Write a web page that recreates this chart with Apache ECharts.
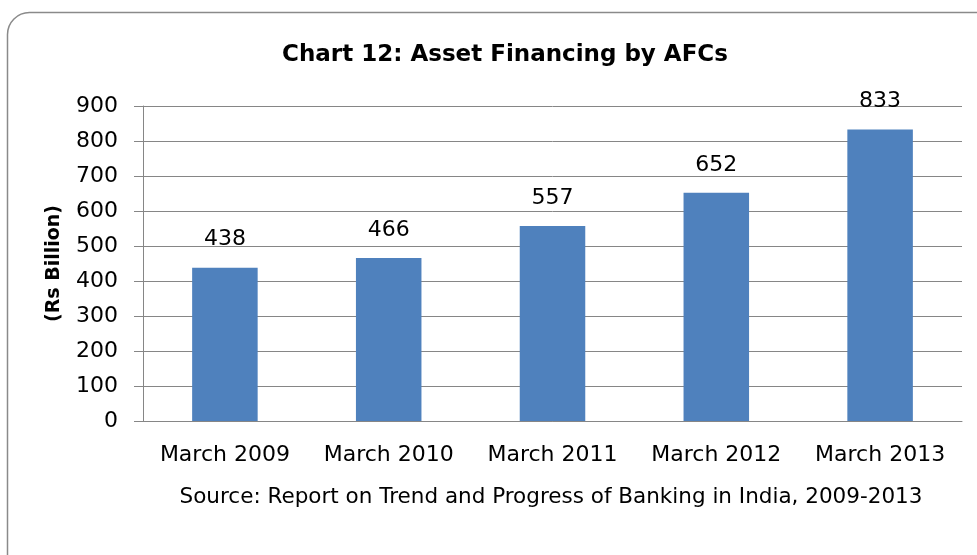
<!DOCTYPE html>
<html><head><meta charset="utf-8">
<script src="https://cdn.jsdelivr.net/npm/echarts@6/dist/echarts.min.js"></script>
<style>html,body{margin:0;padding:0;background:#fff}#c{width:977px;height:555px}</style>
</head><body><div id="c"></div>
<script>
const categories = ["March 2009","March 2010","March 2011","March 2012","March 2013"];
const values = [438, 466, 557, 652, 833];
const titleText = "Chart 12: Asset Financing by AFCs";
const yAxisName = "(Rs Billion)";
const sourceText = "Source: Report on Trend and Progress of Banking in India, 2009-2013";

const font = "'DejaVu Sans', sans-serif";
const chart = echarts.init(document.getElementById('c'));
chart.setOption({
  animation: false,
  backgroundColor: '#fff',
  title: {
    text: titleText, left: 500, top: 39, textAlign: 'center',
    textStyle: {fontFamily: font, fontSize: 23, fontWeight: 'bold', color: '#000'}
  },
  graphic: [
    {type: 'rect', shape: {x: 7.5, y: 12.5, width: 1000, height: 600, r: 22},
     style: {fill: 'none', stroke: '#8a8a8a', lineWidth: 1.5}, z: -1},
    {type: 'text', x: 551, y: 497,
     style: {text: sourceText, font: '21.5px ' + font, fill: '#000', textAlign: 'center', textVerticalAlign: 'middle'}}
  ],
  grid: {left: 143, right: 15, top: 106, bottom: 134, containLabel: false},
  xAxis: {
    type: 'category', data: categories,
    axisLine: {lineStyle: {color: '#868686'}},
    axisTick: {show: false},
    axisLabel: {interval: 0, hideOverlap: false, fontFamily: font, fontSize: 22, color: '#000', margin: 23}
  },
  yAxis: {
    type: 'value', min: 0, max: 900, interval: 100,
    name: yAxisName, nameLocation: 'middle', nameGap: 79,
    nameTextStyle: {fontFamily: font, fontSize: 19, fontWeight: 'bold', color: '#000'},
    axisLine: {show: true, lineStyle: {color: '#868686'}},
    axisTick: {show: true, length: 9, lineStyle: {color: '#868686'}},
    splitLine: {lineStyle: {color: '#868686'}},
    axisLabel: {fontFamily: font, fontSize: 22, color: '#000', margin: 25}
  },
  series: [{
    type: 'bar', data: values, barWidth: '40%',
    itemStyle: {color: '#4f81bd'},
    label: {show: true, position: 'top', distance: 17, fontFamily: font, fontSize: 22, color: '#000'}
  }]
});
</script></body></html>
